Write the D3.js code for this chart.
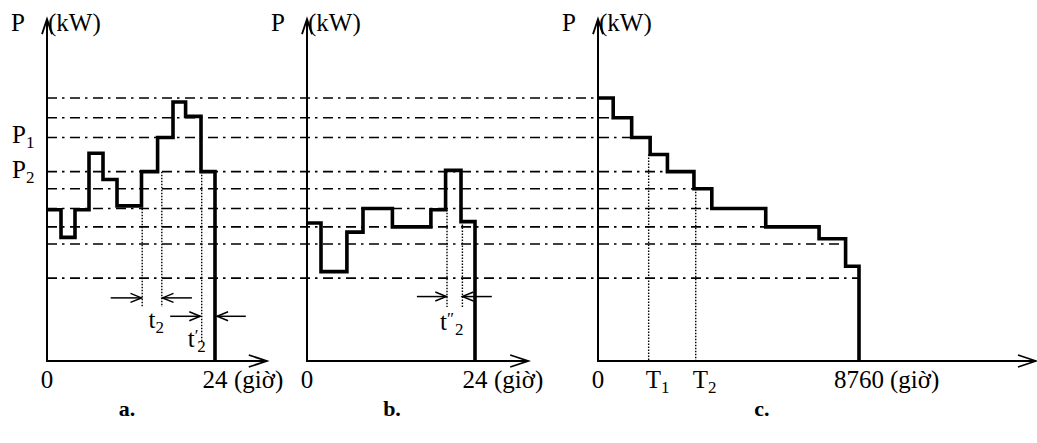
<!DOCTYPE html>
<html>
<head>
<meta charset="utf-8">
<script src="https://cdn.jsdelivr.net/npm/d3@7"></script>
<style>
    body { margin: 0; background: #fff; }
    svg text { font-family: "Liberation Serif", "Times New Roman", serif; font-size: 25px; fill: #000; }
</style>
</head>
<body>
<svg id="chart"></svg>
<script>
// // data (P in % of the peak, time in hours)
const hoursA = [0, 2, 4, 6, 8, 10, 13.5, 15.8, 18, 19.8, 22, 24];
const loadA = [57.5, 47, 57.5, 79, 69, 59, 72, 85, 98.5, 93, 72];
const hoursB = [0, 2, 5.7, 8, 12.2, 17.7, 19.8, 22, 24];
const loadB = [52.5, 34, 49, 58, 51, 57.5, 72.5, 53];
const hoursC = [0, 510, 1130, 1750, 2330, 3220, 3820, 5630, 7420, 8310, 8760];
const loadC = [100, 92.5, 85, 78.5, 72, 65.5, 58, 51, 46.5, 36];
// dash-dot guide levels
const levels = [100, 92.5, 85, 72, 65.5, 58, 51, 44.5, 31.5];
const pNames = ["1", "2"];
const pLevels = [85, 72];
// dotted markers: hour, top level, bottom level
const markA = [13.6, 16.4, 22.1];
const markTopA = [59, 72, 72];
const markBotA = [20.5, 20.5, 6.8];
const markB = [20.0, 22.2];
const markTopB = [57.5, 53];
const markBotB = [20.5, 20.5];
const markC = [1700, 3280];
const markTopC = [78.5, 65.5];
const markNamesC = ["1", "2"];
// interval arrows: from hour -> tip hour, at level
const arrowFromA = [9.1, 20.7, 17.6, 28.4];
const arrowToA = [13.5, 16.5, 21.9, 24.3];
const arrowPA = [24, 24, 17, 17];
const arrowFromB = [15.7, 26.4];
const arrowToB = [19.9, 22.2];
const arrowPB = [24.5, 24.5];
//
const width = 1037;
const height = 443;
const svg = d3.select('svg#chart').attr('width', width).attr('height', height);
svg.append('rect').attr('width', width).attr('height', height).attr('fill', '#fff');

const y = d3.scaleLinear().domain([0, 100]).range([361, 98]);
const xa = d3.scaleLinear().domain([0, 24]).range([47, 215]);
const xb = d3.scaleLinear().domain([0, 24]).range([307, 475]);
const xc = d3.scaleLinear().domain([0, 8760]).range([598, 859]);

const yTop = 130;          // end of the P axis (arrow tip)
const axisEnd = [31.4, 31.6, 14700];

// dash-dot guides, from axis a to where they meet curve c
levels.forEach(function (lv) {
    var idx = loadC.findIndex(v => v < lv + 1);
    var endH = idx < 0 ? 8760 : hoursC[idx];
    svg.append('line')
        .attr('x1', xa(0)).attr('x2', xc(endH))
        .attr('y1', y(lv)).attr('y2', y(lv))
        .attr('stroke', '#000')
        .attr('stroke-width', 1.6)
        .attr('stroke-dasharray', '10,5,2.5,5.5');
});

// dotted markers
function dotted(x, hs, tops, bots) {
    hs.forEach(function (h, i) {
        svg.append('line')
            .attr('x1', x(h)).attr('x2', x(h))
            .attr('y1', y(tops[i])).attr('y2', y(bots[i]))
            .attr('stroke', '#000')
            .attr('stroke-width', 1.4)
            .attr('stroke-dasharray', '1.5,1.5');
    });
}
dotted(xa, markA, markTopA, markBotA);
dotted(xb, markB, markTopB, markBotB);
dotted(xc, markC, markTopC, markC.map(d => 0));

// axes with open arrow heads
function axes(x, endH) {
    var x0 = x(0), y0 = y(0);
    var xt = x(endH), yt = y(yTop);
    svg.append('path')
        .attr('d', 'M' + x0 + ',' + yt + 'L' + x0 + ',' + y0 + 'L' + xt + ',' + y0)
        .attr('fill', 'none').attr('stroke', '#000').attr('stroke-width', 2);
    svg.append('path')
        .attr('d', 'M' + (x0 - 5) + ',' + (yt + 15) + 'L' + x0 + ',' + yt + 'L' + (x0 + 5) + ',' + (yt + 15))
        .attr('fill', 'none').attr('stroke', '#000').attr('stroke-width', 1.8);
    svg.append('path')
        .attr('d', 'M' + (xt - 18) + ',' + (y0 - 6) + 'L' + xt + ',' + y0 + 'L' + (xt - 18) + ',' + (y0 + 6))
        .attr('fill', 'none').attr('stroke', '#000').attr('stroke-width', 1.8);
}
axes(xa, axisEnd[0]);
axes(xb, axisEnd[1]);
axes(xc, axisEnd[2]);

// load curves
function curve(x, hs, ls) {
    var pts = hs.map((h, i) => [h, ls[Math.min(i, ls.length - 1)]]);
    pts.push([hs[hs.length - 1], 0]);
    var line = d3.line().x(d => x(d[0])).y(d => y(d[1])).curve(d3.curveStepAfter);
    svg.append('path')
        .attr('d', line(pts))
        .attr('fill', 'none')
        .attr('stroke', '#000')
        .attr('stroke-width', 3.6)
        .attr('stroke-linejoin', 'miter');
}
curve(xa, hoursA, loadA);
curve(xb, hoursB, loadB);
curve(xc, hoursC, loadC);

// interval arrows
function arrows(x, from, to, lv) {
    from.forEach(function (f, i) {
        var x1 = x(f), x2 = x(to[i]), yy = y(lv[i]);
        var s = x2 > x1 ? -1 : 1;
        svg.append('line').attr('x1', x1).attr('x2', x2).attr('y1', yy).attr('y2', yy)
            .attr('stroke', '#000').attr('stroke-width', 1.5);
        svg.append('path')
            .attr('d', 'M' + (x2 + s * 11) + ',' + (yy - 4.5) + 'L' + x2 + ',' + yy + 'L' + (x2 + s * 11) + ',' + (yy + 4.5))
            .attr('fill', 'none').attr('stroke', '#000').attr('stroke-width', 1.5);
    });
}
arrows(xa, arrowFromA, arrowToA, arrowPA);
arrows(xb, arrowFromB, arrowToB, arrowPB);

// texts
[xa, xb, xc].forEach(function (x) {
    svg.append('text').attr('x', x(0) - 22).attr('y', 31).attr('text-anchor', 'end').text('P');
    svg.append('text').attr('x', x(0) + 1).attr('y', 31).text('(kW)');
    svg.append('text').attr('x', x(0)).attr('y', 388).attr('text-anchor', 'middle').text('0');
});
svg.append('text').attr('x', xa(24)).attr('y', 388).attr('text-anchor', 'middle').text('24');
svg.append('text').attr('x', xa(24) + 19).attr('y', 388).text('(giờ)');
svg.append('text').attr('x', xb(24)).attr('y', 388).attr('text-anchor', 'middle').text('24');
svg.append('text').attr('x', xb(24) + 19).attr('y', 388).text('(giờ)');
svg.append('text').attr('x', xc(8760)).attr('y', 388).attr('text-anchor', 'middle').text('8760');
svg.append('text').attr('x', xc(8760) + 31).attr('y', 388).text('(giờ)');

pLevels.forEach(function (lv, i) {
    var t = svg.append('text').attr('x', 12).attr('y', y(lv) + 6).text('P');
    t.append('tspan').attr('dy', 5).style('font-size', '17px').text(pNames[i]);
});
markC.forEach(function (h, i) {
    var t = svg.append('text').attr('x', xc(h) - 3).attr('y', 388).text('T');
    t.append('tspan').attr('dy', 5).style('font-size', '17px').text(markNamesC[i]);
});

var t2 = svg.append('text').attr('x', xa(14.5)).attr('y', y(12.5)).text('t');
t2.append('tspan').attr('dy', 5).style('font-size', '17px').text('2');
var t2p = svg.append('text').attr('x', xa(20.1)).attr('y', y(5.3)).text('t');
t2p.append('tspan').attr('dy', -6).style('font-size', '17px').text('′');
t2p.append('tspan').attr('dy', 11).attr('dx', -1).style('font-size', '17px').text('2');
var t2b = svg.append('text').attr('x', xb(19)).attr('y', y(11.8)).text('t');
t2b.append('tspan').attr('dy', -6).style('font-size', '17px').text('″');
t2b.append('tspan').attr('dy', 11).attr('dx', 1).style('font-size', '17px').text('2');

const panelNames = ["a.", "b.", "c."];
const panelX = [127, 392, 762];
panelNames.forEach(function (n, i) {
    svg.append('text').attr('x', panelX[i]).attr('y', 416).attr('text-anchor', 'middle')
        .style('font-weight', 'bold').style('font-size', '22px').text(n);
});
</script>
</body>
</html>
